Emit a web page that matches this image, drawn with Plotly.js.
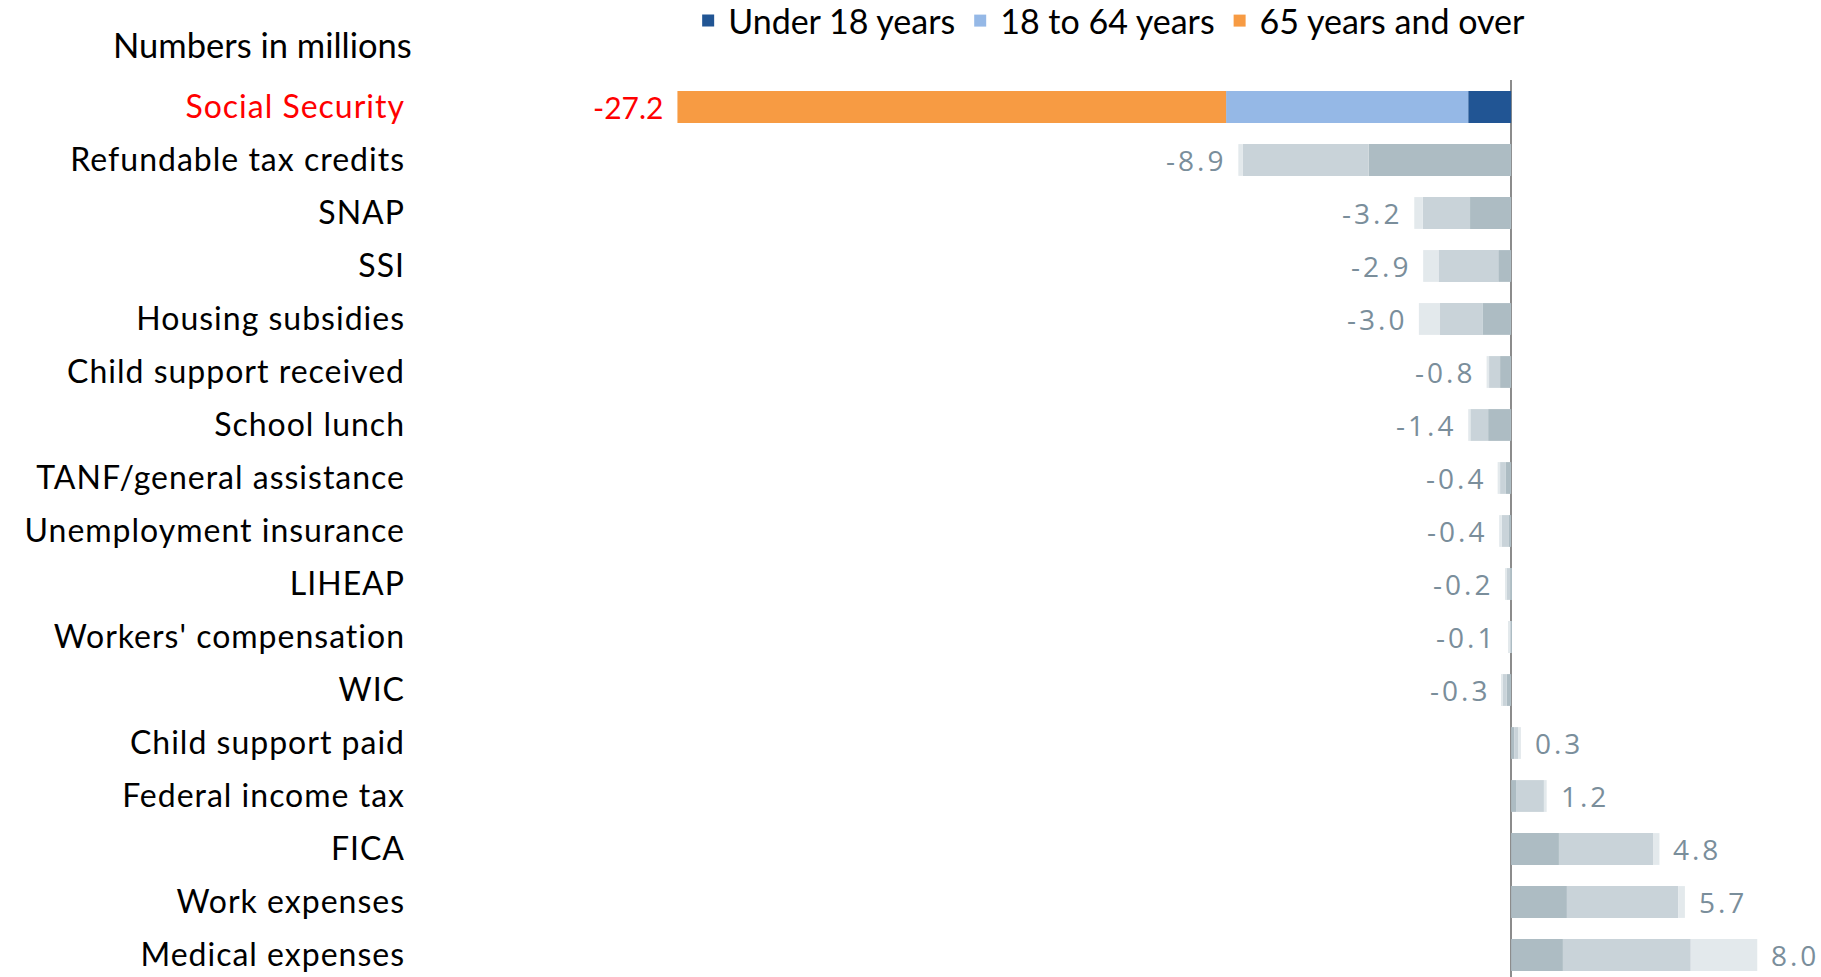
<!DOCTYPE html>
<html>
<head>
<meta charset="utf-8">
<script src="https://cdn.plot.ly/plotly-3.0.1.min.js"></script>
<style>html,body{margin:0;padding:0;background:#fff;}#chart{width:1821px;height:977px;}</style>
</head>
<body>
<div id="chart"></div>
<script>
const categories = ["Social Security","Refundable tax credits","SNAP","SSI","Housing subsidies","Child support received","School lunch","TANF/general assistance","Unemployment insurance","LIHEAP","Workers' compensation","WIC","Child support paid","Federal income tax","FICA","Work expenses","Medical expenses"];
const under18 = [-1.4,-4.65,-1.34,-0.42,-0.92,-0.36,-0.75,-0.17,-0.09,-0.03,-0.01,-0.15,0.10,0.16,1.56,1.82,1.69];
const age18to64 = [-7.9,-4.1,-1.54,-1.95,-1.40,-0.36,-0.58,-0.19,-0.22,-0.12,-0.04,-0.12,0.14,0.91,3.07,3.63,4.17];
const age65plus = [-17.9,-0.15,-0.28,-0.50,-0.69,-0.08,-0.07,-0.08,-0.08,-0.05,-0.05,-0.03,0.08,0.09,0.21,0.22,2.17];
const totalLabels = ["-27.2","-8.9","-3.2","-2.9","-3.0","-0.8","-1.4","-0.4","-0.4","-0.2","-0.1","-0.3","0.3","1.2","4.8","5.7","8.0"];
const seriesNames = ["Under 18 years","18 to 64 years","65 years and over"];
const highlightColors = ["#215594","#95b8e6","#f79b43"];
const grayColors = ["#adbcc3","#c9d3d9","#e3e9ec"];
const highlight = "Social Security";

const series = [under18, age18to64, age65plus];
const traces = series.map((vals, i) => ({
  type: "bar",
  orientation: "h",
  name: seriesNames[i],
  y: categories,
  x: vals,
  marker: {color: categories.map(c => c === highlight ? highlightColors[i] : grayColors[i])},
  hoverinfo: "x+y+name"
}));

const ticktext = categories.map(c => c === highlight
  ? '<span style="color:#ff0000;letter-spacing:1px">' + c + '</span>'
  : '<span style="letter-spacing:1px">' + c + '</span>');

const annotations = categories.map((c, k) => {
  const total = under18[k] + age18to64[k] + age65plus[k];
  const neg = total < 0;
  const isHi = c === highlight;
  return {
    x: total, y: c, xref: "x", yref: "y",
    text: isHi ? totalLabels[k] : '<span style="letter-spacing:3px">' + totalLabels[k] + '</span>',
    showarrow: false,
    xanchor: neg ? "right" : "left", xshift: neg ? (isHi ? -12 : -10) : 12,
    font: isHi ? {family: "Lato, sans-serif", size: 30, color: "#ff0000"} : {family: "Open Sans, sans-serif", size: 28, color: "#7a8e9b"}
  };
});
annotations.push({
  text: "Numbers in millions", xref: "paper", yref: "paper", x: 0, y: 1, xanchor: "right", yanchor: "middle",
  xshift: 2, yshift: 36, showarrow: false, font: {family: "Lato, sans-serif", size: 34.5, color: "#000"}
});

const layout = {
  width: 1821, height: 977,
  margin: {l: 412, r: 0, t: 80, b: 0, autoexpand: false},
  barmode: "relative",
  bargap: 0.4,
  showlegend: true,
  legend: {orientation: "h", x: 0.196, xanchor: "left", y: 1 + 59/897, yanchor: "middle", font: {family: "Lato, sans-serif", size: 34, color: "#000"}, traceorder: "normal", itemwidth: 30},
  xaxis: {range: [-35.86, 10.11], showgrid: false, showticklabels: false, zeroline: true, zerolinecolor: "#8c8c8c", zerolinewidth: 2, fixedrange: true},
  yaxis: {type: "category", categoryorder: "array", categoryarray: categories, range: [16.415, -0.509], tickvals: categories, ticktext: ticktext, showgrid: false, ticks: "", tickfont: {family: "Lato, sans-serif", size: 32, color: "#000"}, ticklabelstandoff: 6},
  annotations: annotations,
  plot_bgcolor: "#fff", paper_bgcolor: "#fff",
  font: {family: "Lato, sans-serif"}
};

Plotly.newPlot("chart", traces, layout, {displayModeBar: false});
</script>
</body>
</html>
